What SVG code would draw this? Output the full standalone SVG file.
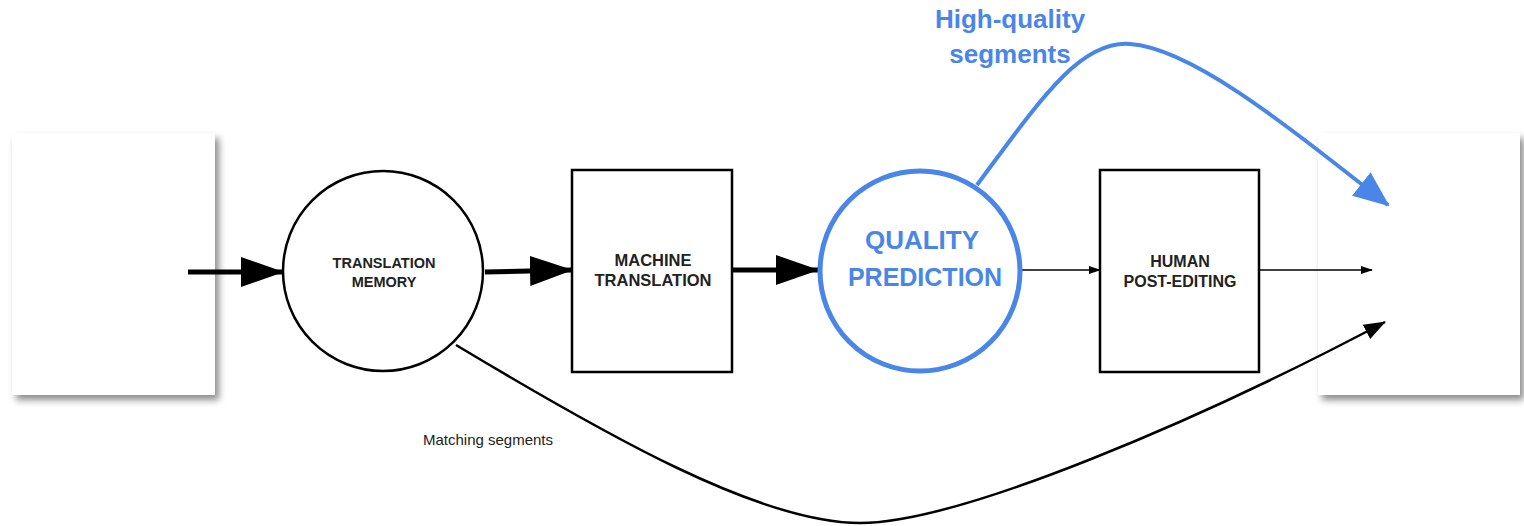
<svg xmlns="http://www.w3.org/2000/svg" width="1524" height="526" viewBox="0 0 1524 526">
<style>
.lbl{font-family:"Liberation Sans",Arial,sans-serif;font-weight:bold;fill:#222;text-anchor:middle}
.blue{font-family:"Liberation Sans",Arial,sans-serif;font-weight:bold;fill:#4a86e8;text-anchor:middle}
.box{fill:#fff;stroke:#000;stroke-width:2.5}
.thick{stroke:#000;stroke-width:5;fill:none}
.thin{stroke:#000;stroke-width:1.5;fill:none}
</style>
<defs>
<filter id="sh" x="-10%" y="-10%" width="130%" height="130%">
<feDropShadow dx="4" dy="5" stdDeviation="3.5" flood-color="#000" flood-opacity="0.45"/>
</filter>
<marker id="big" markerUnits="userSpaceOnUse" markerWidth="44" markerHeight="30" refX="42" refY="15" orient="auto">
<polygon points="0,0 43,15 0,30" fill="#000"/>
</marker>
<marker id="small" markerUnits="userSpaceOnUse" markerWidth="12" markerHeight="8" refX="11" refY="4" orient="auto">
<polygon points="0,0 12,4 0,8" fill="#000"/>
</marker>
<marker id="med" markerUnits="userSpaceOnUse" markerWidth="22" markerHeight="16" refX="21" refY="8" orient="auto">
<polygon points="0,0 22,8 0,16" fill="#000"/>
</marker>
<marker id="bluehead" markerUnits="userSpaceOnUse" markerWidth="36" markerHeight="30" refX="34" refY="15" orient="auto">
<polygon points="0,0 36,15 0,30" fill="#4a86e8"/>
</marker>
</defs>
<g id="source"><rect x="12" y="133" width="203" height="262" fill="#fff" filter="url(#sh)"/></g>
<g id="target"><rect x="1318" y="133" width="202" height="262" fill="#fff" filter="url(#sh)"/></g>
<g id="connectors">
<line class="thick" x1="188" y1="272" x2="283" y2="272" marker-end="url(#big)"/>
<line class="thick" x1="485" y1="272" x2="572" y2="270" marker-end="url(#big)"/>
<line class="thick" x1="732" y1="270" x2="818" y2="270" marker-end="url(#big)"/>
<line class="thin" x1="1022" y1="270" x2="1100" y2="270" marker-end="url(#small)"/>
<line class="thin" x1="1259" y1="270" x2="1372" y2="270" marker-end="url(#small)"/>
<path d="M456,345 C606,435 760,523 860,523 C960,523 1200,420 1385,322" fill="none" stroke="#000" stroke-width="2.5" marker-end="url(#med)"/>
<path d="M977,185 C1040,100 1080,40 1130,44 C1190,48 1280,120 1388,205" fill="none" stroke="#4a86e8" stroke-width="4" marker-end="url(#bluehead)"/>
</g>
<g id="tm">
<circle cx="383" cy="271" r="100" class="box"/>
<text class="lbl" font-size="14.5" x="384" y="268">TRANSLATION</text>
<text class="lbl" font-size="14.5" x="384" y="287">MEMORY</text>
</g>
<g id="mt">
<rect x="572" y="170" width="160" height="202" class="box"/>
<text class="lbl" font-size="16.5" x="653" y="266">MACHINE</text>
<text class="lbl" font-size="16.5" x="653" y="286">TRANSLATION</text>
</g>
<g id="qp">
<circle cx="920" cy="271" r="100" fill="#fff" stroke="#4a86e8" stroke-width="5"/>
<text class="blue" font-size="26" x="922" y="249">QUALITY</text>
<text class="blue" font-size="25" x="925" y="286">PREDICTION</text>
</g>
<g id="hpe">
<rect x="1100" y="170" width="159" height="202" class="box"/>
<text class="lbl" font-size="16" x="1180" y="267">HUMAN</text>
<text class="lbl" font-size="16" x="1180" y="287">POST-EDITING</text>
</g>
<g id="labels">
<text class="blue" font-size="26" x="1010" y="28">High-quality</text>
<text class="blue" font-size="26" x="1010" y="63">segments</text>
<text x="488" y="445" font-family="'Liberation Sans',Arial,sans-serif" font-size="15" fill="#222" text-anchor="middle">Matching segments</text>
</g>
</svg>
